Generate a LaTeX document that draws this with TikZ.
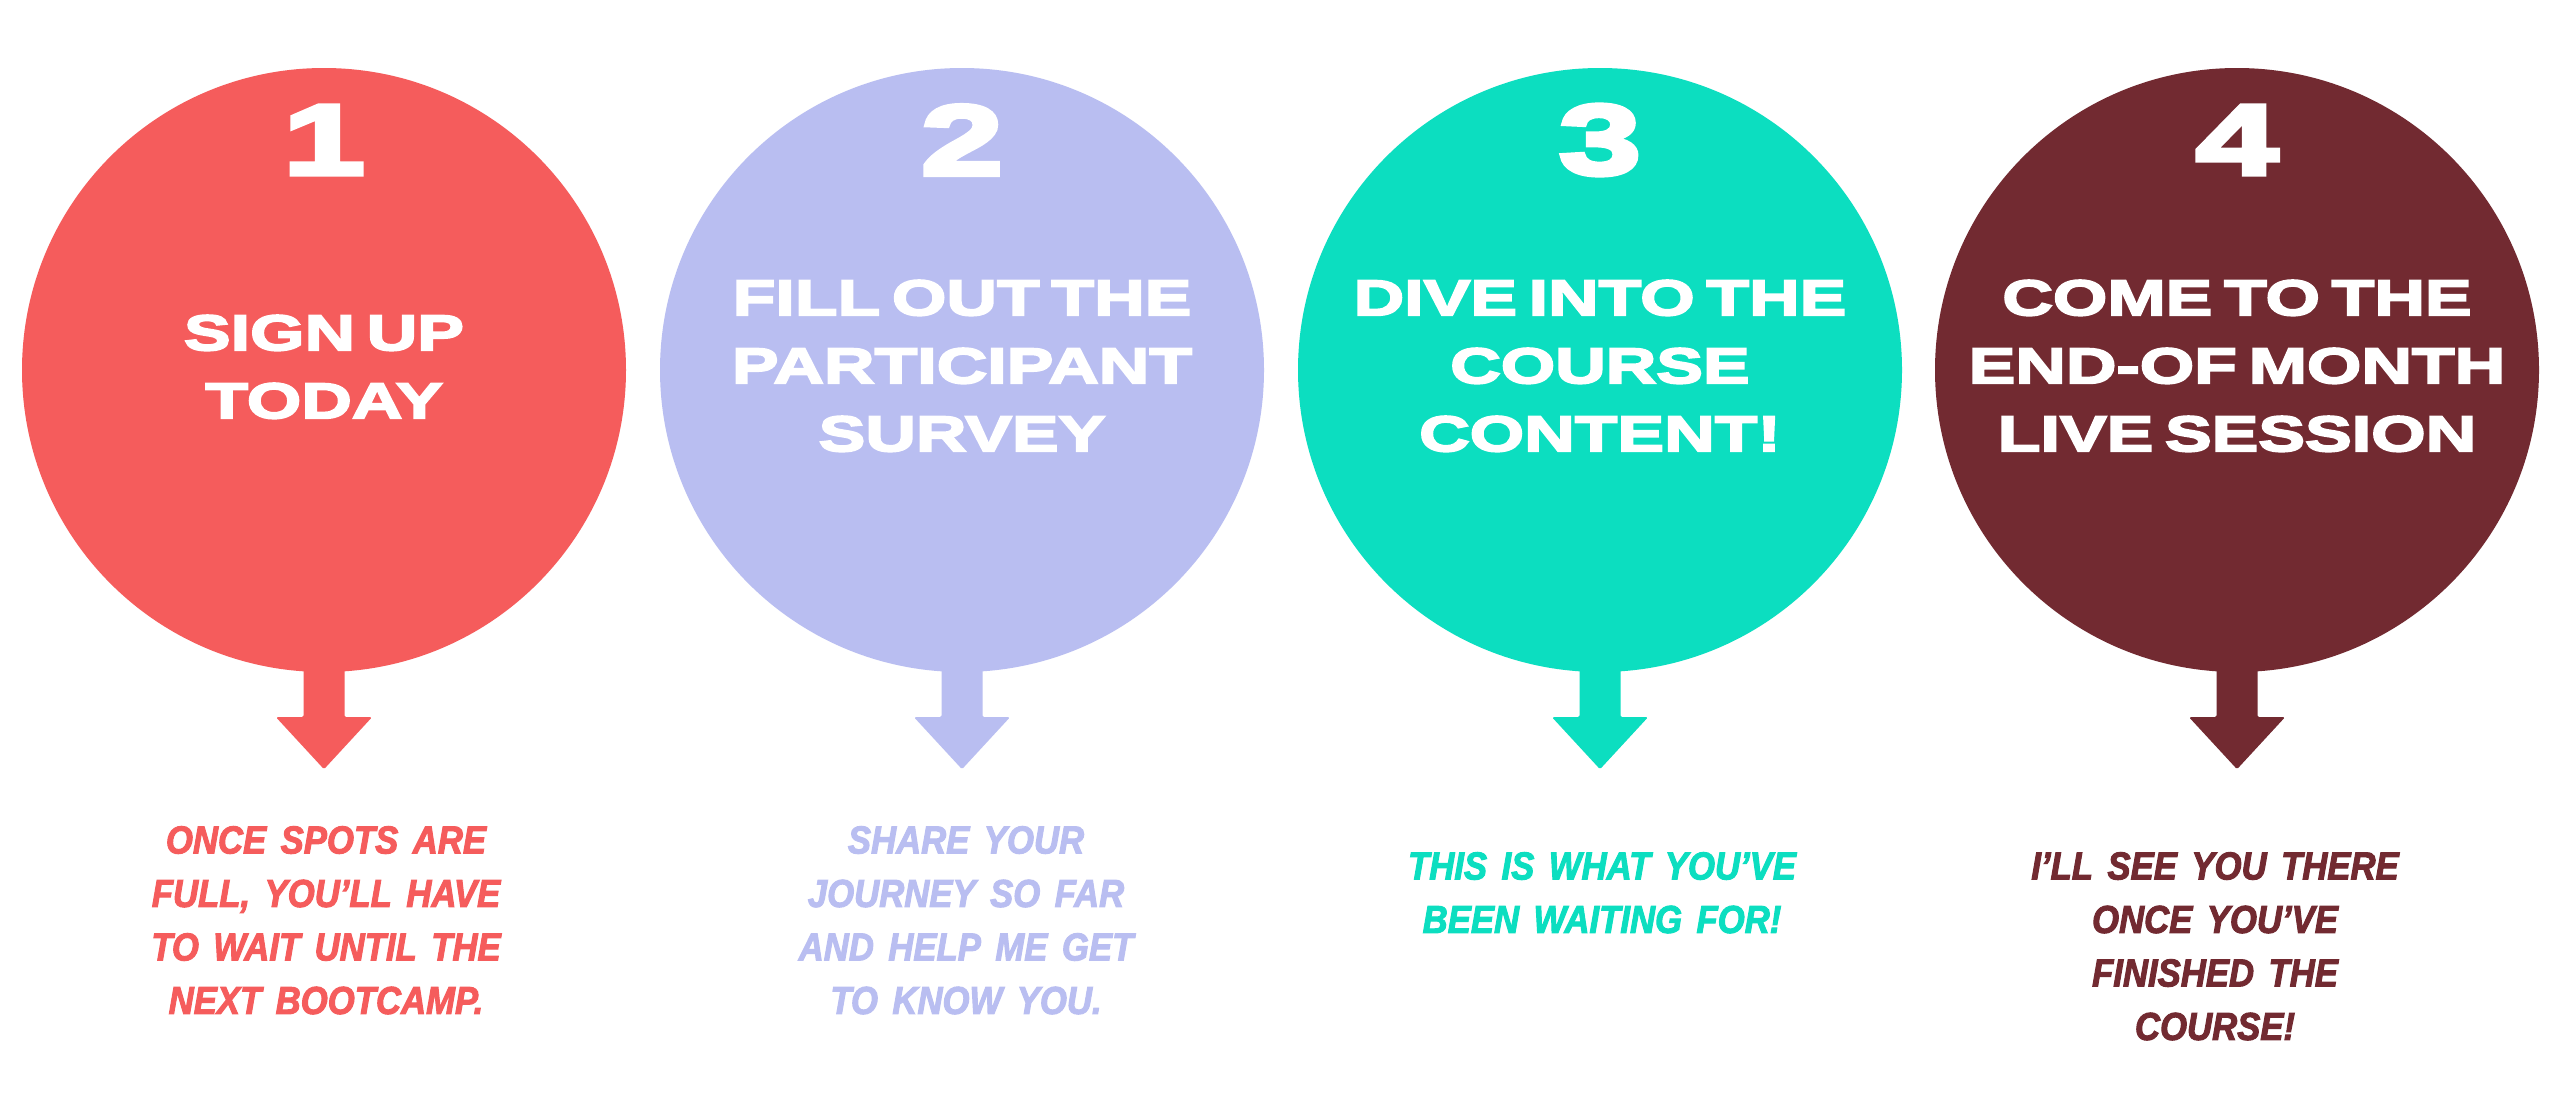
\documentclass[tikz,border=0pt]{standalone}
\usepackage{fontspec}
\setmainfont{Liberation Sans}
\newfontfamily\titlefont[FakeStretch=1.4,FakeBold=4,WordSpace=0.6]{Liberation Sans Bold}
\newfontfamily\numfont[FakeStretch=1.5,FakeBold=5]{Liberation Sans Bold}
\newfontfamily\bodyfont[FakeStretch=0.89,FakeBold=2.5,WordSpace=1.5]{Liberation Sans Bold Italic}
\definecolor{stepA}{HTML}{F55C5C}
\definecolor{stepB}{HTML}{B9BEF1}
\definecolor{stepC}{HTML}{0CDEC0}
\definecolor{stepD}{HTML}{722A31}
\begin{document}
\begin{tikzpicture}[x=1pt,y=-1pt,
  bubble/.style={circle,inner sep=0pt,minimum size=604pt,fill=#1},
  numlabel/.style={text=white,inner sep=0pt,font=\numfont\fontsize{99}{99}\selectfont},
  titlelabel/.style={text=white,inner sep=0pt,align=center,anchor=north,font=\titlefont\fontsize{50}{68}\selectfont},
  notelabel/.style={text=#1,inner sep=0pt,align=center,anchor=north,font=\bodyfont\fontsize{39}{53.5}\selectfont},
  pointer/.style={fill=#1,rounded corners=1.5pt}]

\fill[white] (0,0) rectangle (2560,1096);
\path[use as bounding box] (0,0) rectangle (2560,1096);

% step 1
\node[bubble=stepA] (c1) at (324,370) {};
\fill[pointer=stepA] (c1.south) ++(-20.5,-12) -- ++(0,57) -- ++(-27.5,0) -- ++(48,52) -- ++(48,-52) -- ++(-27.5,0) -- ++(0,-57) -- cycle;
\node[numlabel] (n1) at (324,140) {1};
\node[titlelabel] (t1) at (324,315) {SIGN UP\\TODAY};
\node[notelabel=stepA] (d1) at (326,826) {ONCE SPOTS ARE\\FULL, YOU’LL HAVE\\TO WAIT UNTIL THE\\NEXT BOOTCAMP.};

% step 2
\node[bubble=stepB] (c2) at (962,370) {};
\fill[pointer=stepB] (c2.south) ++(-20.5,-12) -- ++(0,57) -- ++(-27.5,0) -- ++(48,52) -- ++(48,-52) -- ++(-27.5,0) -- ++(0,-57) -- cycle;
\node[numlabel] (n2) at (962,140) {2};
\node[titlelabel] (t2) at (962,280) {FILL OUT THE\\PARTICIPANT\\SURVEY};
\node[notelabel=stepB] (d2) at (966,826) {SHARE YOUR\\JOURNEY SO FAR\\AND HELP ME GET\\TO KNOW YOU.};

% step 3
\node[bubble=stepC] (c3) at (1600,370) {};
\fill[pointer=stepC] (c3.south) ++(-20.5,-12) -- ++(0,57) -- ++(-27.5,0) -- ++(48,52) -- ++(48,-52) -- ++(-27.5,0) -- ++(0,-57) -- cycle;
\node[numlabel] (n3) at (1600,140) {3};
\node[titlelabel] (t3) at (1600,280) {DIVE INTO THE\\COURSE\\CONTENT!};
\node[notelabel=stepC] (d3) at (1602,852) {THIS IS WHAT YOU’VE\\BEEN WAITING FOR!};

% step 4
\node[bubble=stepD] (c4) at (2237,370) {};
\fill[pointer=stepD] (c4.south) ++(-20.5,-12) -- ++(0,57) -- ++(-27.5,0) -- ++(48,52) -- ++(48,-52) -- ++(-27.5,0) -- ++(0,-57) -- cycle;
\node[numlabel] (n4) at (2237,140) {4};
\node[titlelabel] (t4) at (2237,280) {COME TO THE\\END-OF MONTH\\LIVE SESSION};
\node[notelabel=stepD] (d4) at (2215,852) {I’LL SEE YOU THERE\\ONCE YOU’VE\\FINISHED THE\\COURSE!};
\end{tikzpicture}
\end{document}
